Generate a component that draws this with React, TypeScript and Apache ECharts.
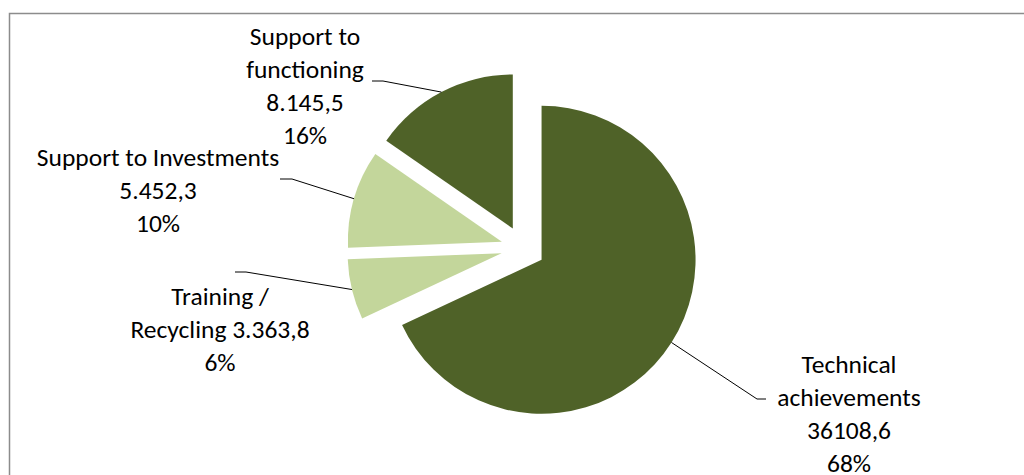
import React, { useEffect, useRef } from "react";
import * as echarts from "echarts";

const categories = [
  "Technical achievements",
  "Training / Recycling",
  "Support to Investments",
  "Support to functioning",
];
const values = [36108.6, 3363.8, 5452.3, 8145.5];
const valueLabels = ["36108,6", "3.363,8", "5.452,3", "8.145,5"];
const percentLabels = ["68%", "6%", "10%", "16%"];
const labelNames = [
  "Technical\nachievements",
  "Training /\nRecycling",
  "Support to Investments",
  "Support to\nfunctioning",
];
const nameValueSep = ["\n", " ", "\n", "\n"];
const colors = ["#4F6228", "#C3D69B", "#C3D69B", "#4F6228"];

// layout: pie geometry, label anchors (center x, top y) and leader-line bends
const CENTER = [523, 248];
const RADIUS = 154;
const OFFSET = 22;
const labelPos = [
  { x: 849, y: 348 },
  { x: 220, y: 280 },
  { x: 158, y: 141 },
  { x: 305, y: 20 },
];
const guideBends = [
  [[757, 399], [766, 399]],
  [[246, 272], [235, 272]],
  [[292, 179], [280, 179]],
  [[383, 81], [372, 81]],
];
const FONT_FAMILY = "Carlito, Calibri, Lato, sans-serif";

export default function App() {
  const ref = useRef<HTMLDivElement>(null);
  useEffect(() => {
    if (!ref.current) return;
    const chart = echarts.init(ref.current, undefined, { renderer: "svg" });
    const total = values.reduce((a, b) => a + b, 0);
    let cum = 0;
    const anchors = values.map((v) => {
      const mid = ((cum + v / 2) / total) * Math.PI * 2;
      cum += v;
      const d = RADIUS + OFFSET;
      return [CENTER[0] + d * Math.sin(mid), CENTER[1] - d * Math.cos(mid)];
    });
    const data = categories.map((c, i) => ({
      name: c,
      value: values[i],
      selected: true,
      itemStyle: { color: colors[i] },
    }));
    const labelGraphics: any[] = [];
    categories.forEach((_, i) => {
      labelGraphics.push({
        type: "polyline",
        silent: true,
        shape: { points: [anchors[i], guideBends[i][0], guideBends[i][1]] },
        style: { stroke: "#000", lineWidth: 1, fill: "none" },
        z: 10,
      });
      labelGraphics.push({
        type: "text",
        silent: true,
        x: labelPos[i].x,
        y: labelPos[i].y,
        style: {
          text: labelNames[i] + nameValueSep[i] + valueLabels[i] + "\n" + percentLabels[i],
          fill: "#000",
          fontFamily: FONT_FAMILY,
          fontSize: 25.5,
          lineHeight: 33,
          textAlign: "center",
          textVerticalAlign: "top",
          align: "center",
          verticalAlign: "top",
        },
        z: 10,
      });
    });
    chart.setOption({
      animation: false,
      graphic: [
        {
          type: "rect",
          silent: true,
          shape: { x: 9.5, y: 13.5, width: 1100, height: 600 },
          style: { fill: "none", stroke: "#8c8c8c", lineWidth: 1.5 },
        },
        ...labelGraphics,
      ],
      series: [
        {
          type: "pie",
          center: CENTER,
          radius: [0, RADIUS],
          startAngle: 90,
          clockwise: true,
          selectedMode: "multiple",
          selectedOffset: OFFSET,
          emphasis: { disabled: true },
          itemStyle: { borderWidth: 0 },
          label: { show: false },
          labelLine: { show: false },
          data,
        },
      ],
    });
    return () => chart.dispose();
  }, []);
  return (
    <div
      ref={ref}
      style={{ position: "absolute", left: 0, top: 0, width: 1024, height: 475, background: "#fff" }}
    />
  );
}
